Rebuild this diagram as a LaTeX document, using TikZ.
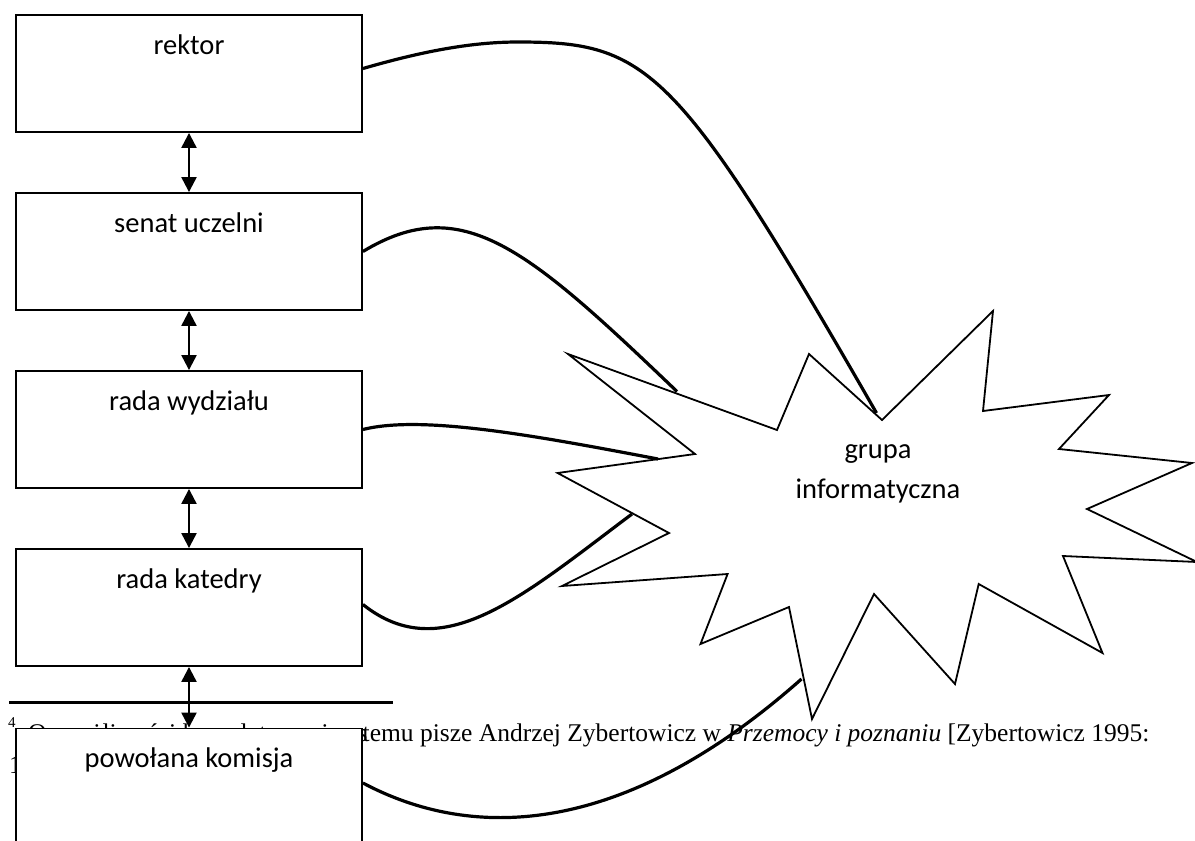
\documentclass[tikz,border=0pt]{standalone}
\usepackage{fontspec}
\newfontfamily\calib{Carlito}
\newfontfamily\tnr{Liberation Serif}
\usetikzlibrary{arrows.meta,calc}
\begin{document}
\begin{tikzpicture}[x=1pt,y=-1pt,
  box/.style={draw,line width=1.9pt,fill=white,minimum width=346pt,minimum height=117pt,inner sep=0pt},
  lbl/.style={font=\calib\fontsize{28.5}{34}\selectfont,anchor=base,inner sep=0pt},
  startxt/.style={font=\calib\fontsize{28.5}{34}\selectfont,anchor=base,inner sep=0pt},
  link/.style={line width=3.2pt},
  dbl/.style={line width=2.3pt,{Triangle[length=15pt,width=15pt]}-{Triangle[length=15pt,width=15pt]}},
  starline/.style={line width=1.8pt,line join=miter},
  fn/.style={font=\tnr\fontsize{25.5}{30}\selectfont,anchor=base west,inner sep=0pt}]
\useasboundingbox (0,0) rectangle (1195,841);
\clip (0,0) rectangle (1195,841);

% footnote (partly hidden behind the last box)
\draw[line width=3pt] (9,702) -- (393,702);
\node[fn] (fnsup) at (8,727) {\fontsize{15}{15}\selectfont 4};
\node[fn] (fna) at (28,741) {O wrażliwości kumulatywnej sys};
\node[fn] (fnb) at (362.5,741) {temu pisze Andrzej Zybertowicz w \textit{Przemocy i poznaniu} [Zybertowicz 1995:};
\node[fn] (fnc) at (9,773) {1};

% boxes
\node[box] (rektor) at (189,73.5) {};
\node[box] (senat) at (189,251.5) {};
\node[box] (wydz) at (189,429.5) {};
\node[box] (katedra) at (189,607.5) {};
\node[box] (komisja) at (189,787) {};

\node[lbl] (trektor) at ($(rektor.north)+(0,40)$) {rektor};
\node[lbl] (tsenat) at ($(senat.north)+(0,40)$) {senat uczelni};
\node[lbl] (twydz) at ($(wydz.north)+(0,40)$) {rada wydziału};
\node[lbl] (tkatedra) at ($(katedra.north)+(0,40)$) {rada katedry};
\node[lbl] (tkomisja) at ($(komisja.north)+(0,40)$) {powołana komisja};

% vertical double arrows
\draw[dbl] (rektor.south) -- (senat.north);
\draw[dbl] (senat.south) -- (wydz.north);
\draw[dbl] (wydz.south) -- (katedra.north);
\draw[dbl] (katedra.south) -- (komisja.north);

% star
\draw[starline] (568,354) -- (777,430) -- (809,354) -- (882,420) -- (993,311) -- (983,411)
  -- (1109,395) -- (1059,449) -- (1192,463) -- (1087,509) -- (1197,562) -- (1063,556)
  -- (1102.5,653) -- (978.7,584) -- (955,684) -- (874,594) -- (812,719) -- (789,607)
  -- (700.5,644) -- (727.6,574) -- (562,586) -- (669,533) -- (557.6,473) -- (695,454) -- cycle;
\node[startxt] (grupa) at (878,458) {grupa};
\node[startxt] (informatyczna) at (878,498) {informatyczna};

\coordinate (erektor) at (876.5,413);
\coordinate (prektor) at (518,42);
\coordinate (esenat) at (677,391.5);
\coordinate (ewydz) at (658,459);
\coordinate (ekatedra) at (632,514);
\coordinate (ekomisja) at (801.5,679);

% connectors to the star
\draw[link] ([yshift=5pt]rektor.east) .. controls (420,52) and (470,42) .. (prektor)
  .. controls (648,42) and (676.5,65) .. (erektor);
\draw[link] (senat.east) .. controls (462,191.5) and (527,248) .. (esenat);
\draw[link] (wydz.east) .. controls (422,414.5) and (538,436.2) .. (ewydz);
\draw[link] ([yshift=3pt]katedra.east) .. controls (442,667.5) and (522,596.5) .. (ekatedra);
\draw[link] ([yshift=4pt]komisja.east) .. controls (470,840) and (620,840) .. (ekomisja);
\end{tikzpicture}
\end{document}
